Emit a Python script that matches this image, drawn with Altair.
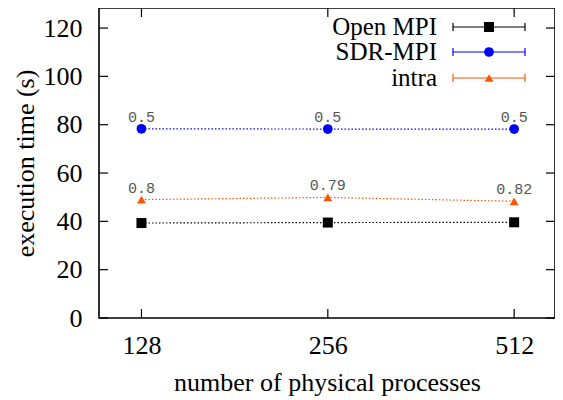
import altair as alt
import pandas as pd

procs = [128, 256, 512]
openmpi = [39.3, 39.5, 39.6]
sdr = [78.3, 78.2, 78.2]
intra = [49.0, 49.9, 48.3]
sdr_labels = ["0.5", "0.5", "0.5"]
intra_labels = ["0.8", "0.79", "0.82"]
series = ["Open MPI", "SDR-MPI", "intra"]
colors = ["#000000", "#0000ff", "#ff5500"]
shapes = ["square", "circle", "triangle-up"]
sizes = [100, 95, 80]
y_ticks = [0, 20, 40, 60, 80, 100, 120]

rows = []
for name, vals, labs in [("Open MPI", openmpi, ["", "", ""]),
                         ("SDR-MPI", sdr, sdr_labels),
                         ("intra", intra, intra_labels)]:
    for p, v, l in zip(procs, vals, labs):
        rows.append({"series": name, "procs": p, "time": v, "label": l})
df = pd.DataFrame(rows)

W, H = 456, 310
SERIF = "Liberation Serif"
FS = 26
xs = alt.Scale(type="log", base=2, domain=[109.3, 596], nice=False)
ys = alt.Scale(domain=[0, 128.3], nice=False, zero=False)
cs = alt.Scale(domain=series, range=colors)

common = dict(domain=False, ticks=False, grid=False,
              labelFont=SERIF, labelFontSize=FS, labelColor="black",
              titleFont=SERIF, titleFontSize=FS, titleFontWeight="normal",
              titleColor="black")
xaxis = alt.Axis(values=procs, title="number of physical processes",
                 labelPadding=14, titlePadding=11, format="d", **common)
yaxis = alt.Axis(values=y_ticks, title="execution time (s)",
                 labelPadding=17, titlePadding=5, **common)
X = alt.X("procs:Q", scale=xs, axis=xaxis)
Y = alt.Y("time:Q", scale=ys, axis=yaxis)

base = alt.Chart(df)
layers = []
layers.append(base.mark_line(strokeDash=[1.5, 2], strokeWidth=1.2).encode(
    x=X, y=Y, color=alt.Color("series:N", scale=cs, legend=None), detail="series:N"))
for name, sh, sz, col in zip(series, shapes, sizes, colors):
    layers.append(base.transform_filter(alt.datum.series == name).mark_point(
        filled=True, opacity=1, shape=sh, size=sz, color=col).encode(x=X, y=Y))
layers.append(base.transform_filter(alt.datum.label != "").mark_text(
    font="Liberation Mono", fontSize=15, color="#555555", baseline="alphabetic", dy=-7
).encode(x=X, y=Y, text="label:N"))

# inward ticks (gnuplot style, mirrored)
ydf = alt.Chart(pd.DataFrame({"time": y_ticks}))
layers.append(ydf.mark_rule(color="black", strokeWidth=1.2).encode(
    y=Y, x=alt.value(0), x2=alt.value(9)))
layers.append(ydf.mark_rule(color="black", strokeWidth=1.2).encode(
    y=Y, x=alt.value(W - 9), x2=alt.value(W)))
xdf = alt.Chart(pd.DataFrame({"procs": procs}))
layers.append(xdf.mark_rule(color="black", strokeWidth=1.2).encode(
    x=X, y=alt.value(H), y2=alt.value(H - 9)))
layers.append(xdf.mark_rule(color="black", strokeWidth=1.2).encode(
    x=X, y=alt.value(0), y2=alt.value(9)))

# manual legend
leg_rows = [19, 44, 70]
for name, sh, sz, col, ry in zip(series, shapes, sizes, colors, leg_rows):
    ld = alt.Chart(pd.DataFrame({"s": [name]}))
    layers.append(ld.mark_text(font=SERIF, fontSize=25, align="right",
                               baseline="middle", color="black").encode(
        text="s:N", x=alt.value(338), y=alt.value(ry)))
    layers.append(ld.mark_rule(color=col, strokeWidth=1.2).encode(
        x=alt.value(354), x2=alt.value(426), y=alt.value(ry)))
    layers.append(ld.mark_rule(color=col, strokeWidth=1.2).encode(
        x=alt.value(354), y=alt.value(ry - 4), y2=alt.value(ry + 4)))
    layers.append(ld.mark_rule(color=col, strokeWidth=1.2).encode(
        x=alt.value(426), y=alt.value(ry - 4), y2=alt.value(ry + 4)))
    layers.append(ld.mark_point(filled=True, opacity=1, shape=sh, size=sz, color=col).encode(
        x=alt.value(390), y=alt.value(ry)))

chart = alt.layer(*layers).properties(
    width=W, height=H,
    autosize=alt.AutoSizeParams(type="none"),
    padding={"left": 91, "top": 0, "right": 0, "bottom": 82},
    background="white",
).configure_view(stroke="black", strokeWidth=1.6)

chart.save("out.html", embed_options={"renderer": "svg", "actions": False})
